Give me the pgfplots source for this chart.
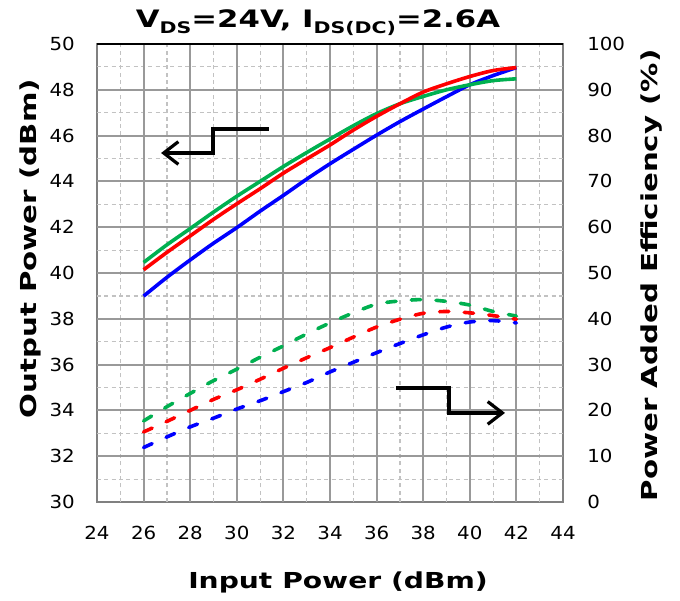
\documentclass[border=0pt]{standalone}
\usepackage{fontspec}
\setmainfont{DejaVu Sans}
\newfontfamily\tickfont[FakeStretch=1.1]{DejaVu Sans}
\newfontfamily\labelfont[FakeStretch=1.28]{DejaVu Sans Bold}
\newfontfamily\ylabelfont[FakeStretch=1.33]{DejaVu Sans Bold}
\newfontfamily\titlefont[FakeStretch=1.28]{DejaVu Sans Bold}
\usepackage{pgfplots}
\usepackage{pgfplotstable}
\pgfplotsset{compat=1.18}
\usetikzlibrary{arrows.meta}

\definecolor{pblue}{RGB}{0,0,255}
\definecolor{pred}{RGB}{255,0,0}
\definecolor{pgreen}{RGB}{0,176,80}

% Output power (dBm) versus input power (dBm)
\pgfplotstableread{
pin  blue   red    green
26   38.99  40.14  40.46
27   39.81  40.90  41.23
28   40.57  41.62  41.94
29   41.30  42.34  42.66
30   41.98  43.02  43.35
31   42.70  43.68  44.00
32   43.39  44.36  44.65
33   44.10  44.98  45.26
34   44.77  45.59  45.85
35   45.40  46.24  46.43
36   46.02  46.84  46.96
37   46.61  47.39  47.39
38   47.16  47.90  47.71
39   47.70  48.26  48.00
40   48.22  48.58  48.22
41   48.62  48.84  48.40
42   48.97  48.97  48.48
}\poutdata

% Power added efficiency (%) versus input power (dBm)
\pgfplotstableread{
pin  blue  red   green
26   11.9  15.3  17.7
27   14.2  17.6  20.8
28   16.4  20.0  23.7
29   18.3  22.4  26.5
30   20.3  24.5  29.0
31   22.1  26.8  31.6
32   24.1  29.2  34.1
33   26.1  31.5  36.7
34   28.4  33.7  39.1
35   30.5  36.0  41.3
36   32.6  38.2  43.2
37   34.6  39.9  43.9
38   36.5  41.2  44.2
39   38.2  41.6  43.8
40   39.3  41.3  43.0
41   39.6  40.7  41.6
42   39.1  39.9  40.6
}\paedata

\tikzset{
  gridminor/.style={draw=black!24, line width=0.9pt, dash pattern=on 3pt off 2.5pt},
  gridmajor/.style={draw=black!40, line width=1.5pt},
}
\pgfplotsset{
  common/.style={
    scale only axis, width=349.5pt, height=343.5pt,
    xmin=24, xmax=44,
    major tick length=0pt, minor tick length=0pt,
    /pgf/number format/assume math mode=true,
    ticklabel style={font=\tickfont\fontsize{13.5}{15}\selectfont, inner sep=0pt},
  },
  pout/.style={line width=2.7pt, line join=round, smooth},
  pae/.style={line width=2.7pt, line cap=round, smooth, dash pattern=on 7pt off 11.5pt},
}

\begin{document}
\begin{tikzpicture}
\useasboundingbox (-72.75pt,-73.5pt) rectangle (437.25pt,376.5pt);

\begin{axis}[common,
  ymin=30, ymax=50,
  xtick={24,26,...,44}, ytick={30,32,...,50},
  axis line style={draw=black!50, line width=1.6pt},
  xticklabel style={anchor=center, yshift=-23pt},
  yticklabel style={anchor=east, xshift=-16.5pt},
  ytick pos=left, xtick pos=bottom,
]
  % grid: dashed every 1 unit, solid every 2
  \pgfplotsinvokeforeach{25,27,...,43}{\draw[gridminor] (axis cs:#1,30) -- (axis cs:#1,50);}
  \pgfplotsinvokeforeach{31,33,...,49}{\draw[gridminor] (axis cs:24,#1) -- (axis cs:44,#1);}
  \pgfplotsinvokeforeach{26,28,...,42}{\draw[gridmajor] (axis cs:#1,30) -- (axis cs:#1,50);}
  \pgfplotsinvokeforeach{32,34,...,48}{\draw[gridmajor] (axis cs:24,#1) -- (axis cs:44,#1);}
  \addplot[pout, pblue]  table[x=pin, y=blue]  {\poutdata};
  \addplot[pout, pgreen] table[x=pin, y=green] {\poutdata};
  \addplot[pout, pred]   table[x=pin, y=red]   {\poutdata};
  \draw[black, line width=1.6pt] (rel axis cs:0,1) -- (rel axis cs:1,1);
  % arrows pointing to the axis each group belongs to
  \draw[line width=2.4pt, line join=miter, -{Straight Barb[length=11pt,width=17pt]}]
    (axis cs:31.38,46.29) -- (axis cs:28.98,46.29) -- (axis cs:28.98,45.24) -- (axis cs:26.75,45.24);
  \draw[line width=2.4pt, line join=miter, -{Straight Barb[length=11pt,width=17pt]}]
    (axis cs:36.83,34.98) -- (axis cs:39.11,34.98) -- (axis cs:39.11,33.89) -- (axis cs:41.51,33.89);
\end{axis}

\begin{axis}[common,
  ymin=0, ymax=100,
  ytick={0,10,...,100},
  axis x line=none, axis y line*=right,
  axis line style={draw=none},
  yticklabel style={anchor=west, xshift=18pt},
]
  \addplot[pae, pgreen] table[x=pin, y=green] {\paedata};
  \addplot[pae, pblue]  table[x=pin, y=blue]  {\paedata};
  \addplot[pae, pred]   table[x=pin, y=red]   {\paedata};
\end{axis}

\node[anchor=base, font=\titlefont\fontsize{18}{20}\selectfont] at (165.75pt,355.5pt)
  {V\raisebox{-4pt}{\fontsize{12}{12}\selectfont DS}=24V, I\raisebox{-4pt}{\fontsize{12}{12}\selectfont DS(DC)}=2.6A};
\node[font=\labelfont\fontsize{16.5}{18}\selectfont] at (180.75pt,-60pt) {Input Power (dBm)};
\node[rotate=90, font=\ylabelfont\fontsize{16.5}{18}\selectfont] at (-50.25pt,190pt) {Output Power (dBm)};
\node[rotate=90, font=\ylabelfont\fontsize{16.5}{18}\selectfont] at (416.25pt,170pt) {Power Added Efficiency (\%)};
\end{tikzpicture}
\end{document}
